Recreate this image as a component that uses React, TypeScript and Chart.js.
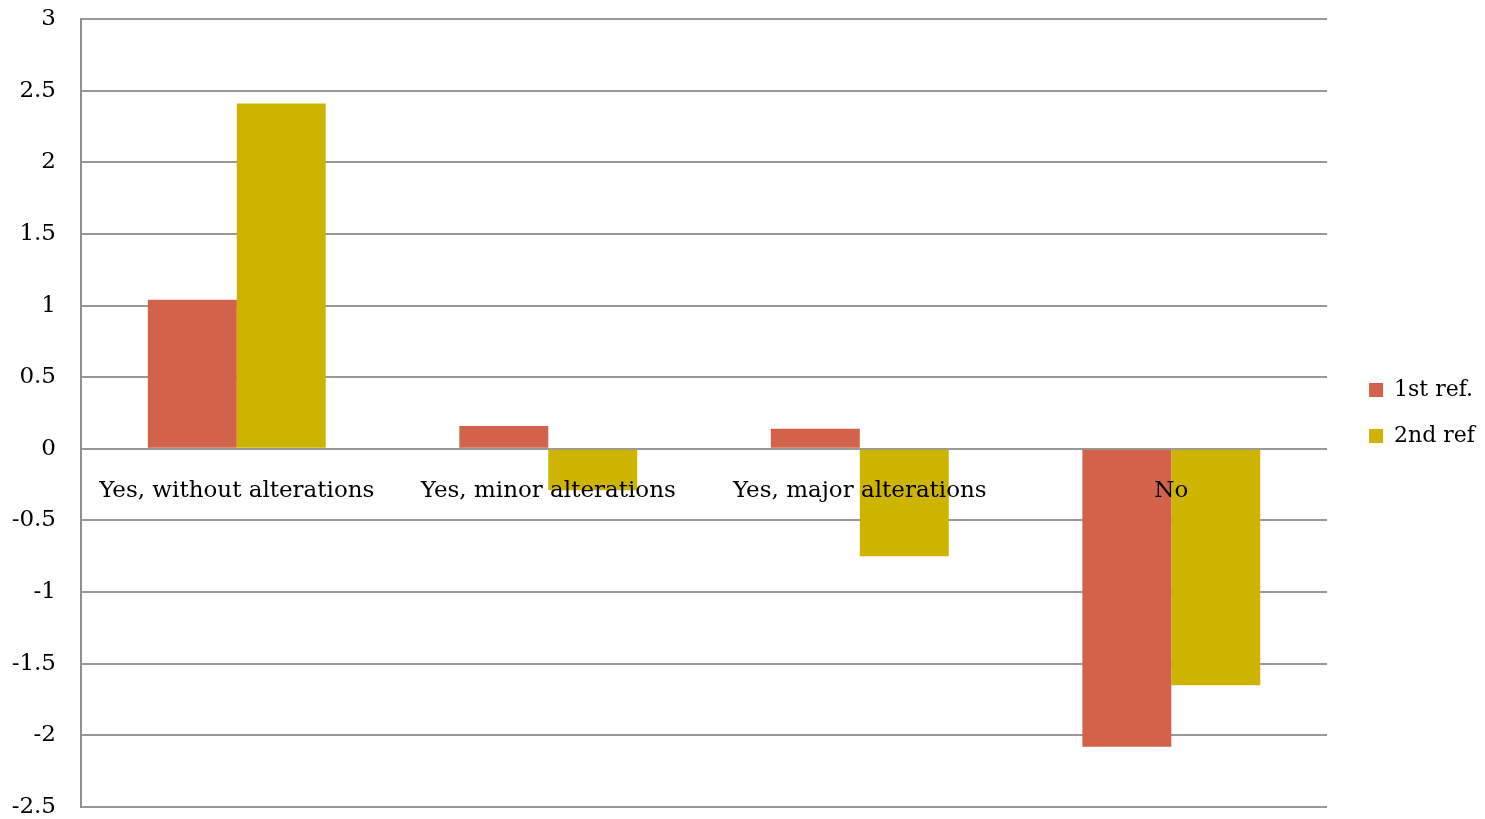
import React, { useEffect, useRef } from "react";
import { Chart, registerables } from "chart.js";

Chart.register(...registerables);

const categories = ["Yes, without alterations", "Yes, minor alterations", "Yes, major alterations", "No"];
const firstRef = [1.04, 0.16, 0.14, -2.08];
const secondRef = [2.41, -0.29, -0.75, -1.65];
const seriesNames = ["1st ref.", "2nd ref"];
const seriesColors = ["#D2634A", "#CDB400"];

const FONT = "'DejaVu Serif', serif";
const LEGEND_EXTRA = 18;

const legendShift = {
  id: "legendShift",
  beforeLayout(chart: any) {
    const lg = chart.legend;
    if (lg && !lg.__patched) {
      const orig = lg.fit.bind(lg);
      lg.fit = function () {
        orig();
        this.width += LEGEND_EXTRA;
      };
      lg.__patched = true;
    }
  },
  afterLayout(chart: any) {
    const lg = chart.legend;
    if (lg) {
      lg.left += LEGEND_EXTRA;
      if (lg.adjustHitBoxes) lg.adjustHitBoxes();
    }
  },
};

export default function App() {
  const ref = useRef<HTMLCanvasElement | null>(null);
  useEffect(() => {
    document.body.style.margin = "0";
    const ctx = ref.current!;
    const chart = new Chart(ctx, {
      type: "bar",
      data: {
        labels: categories,
        datasets: [
          { label: seriesNames[0], data: firstRef, backgroundColor: seriesColors[0], barPercentage: 1, categoryPercentage: 0.571 },
          { label: seriesNames[1], data: secondRef, backgroundColor: seriesColors[1], barPercentage: 1, categoryPercentage: 0.571 },
        ],
      },
      plugins: [legendShift],
      options: {
        animation: false,
        responsive: false,
        layout: { padding: { top: 19, right: 0, left: 0, bottom: 12 } },
        plugins: {
          tooltip: { enabled: false },
          legend: {
            position: "right",
            labels: {
              boxWidth: 14,
              boxHeight: 14,
              padding: 24,
              color: "#000",
              font: { family: FONT, size: 22 },
            },
          },
        },
        scales: {
          x: {
            position: { y: 0 } as any,
            grid: { display: false, drawTicks: false },
            border: { display: false },
            ticks: { z: 1, color: "#000", font: { family: FONT, size: 23 }, padding: 28, maxRotation: 0, autoSkip: false } as any,
          },
          y: {
            min: -2.5,
            max: 3,
            grid: { color: "#999999", lineWidth: 2, drawTicks: false },
            border: { display: true, color: "#909090", width: 2 },
            ticks: {
              stepSize: 0.5,
              color: "#000",
              font: { family: FONT, size: 23 },
              padding: 25,
              callback: (v: any) => String(Number(v)),
            },
            afterFit: (s: any) => {
              s.width = 81;
              s.paddingTop = 0;
              s.paddingBottom = 0;
            },
          },
        },
      },
    });
    return () => chart.destroy();
  }, []);
  return <canvas ref={ref} width={1485} height={819} style={{ display: "block" }} />;
}
